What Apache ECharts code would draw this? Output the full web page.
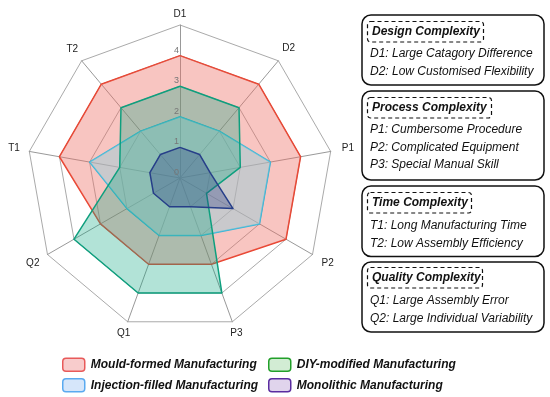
<!DOCTYPE html>
<html>
<head>
<meta charset="utf-8">
<script src="https://cdn.jsdelivr.net/npm/echarts@6/dist/echarts.min.js"></script>
<style>html,body{margin:0;padding:0;background:#fff}#chart{width:550px;height:397px}</style>
</head>
<body>
<div id="chart"></div>
<script>
// Categories in clockwise order starting at top
var categories = ['D1', 'D2', 'P1', 'P2', 'P3', 'Q1', 'Q2', 'T1', 'T2'];
var seriesNames = ['Mould-formed Manufacturing', 'Injection-filled Manufacturing', 'DIY-modified Manufacturing', 'Monolithic Manufacturing'];
var mouldValues     = [4, 4, 4, 4, 3, 3, 3, 4, 4];
var injectionValues = [2, 2, 3, 3, 2, 2, 2, 3, 2];
var diyValues       = [3, 3, 2, 1, 4, 4, 4, 2, 3];
var monoValues      = [1, 1, 1, 2, 1, 1, 1, 1, 1];
var axisMax = 5;

var boxTitles = ['Design Complexity', 'Process Complexity', 'Time Complexity', 'Quality Complexity'];
var boxItems = [
  ['D1: Large Catagory Difference', 'D2: Low Customised Flexibility'],
  ['P1: Cumbersome Procedure', 'P2: Complicated Equipment', 'P3: Special Manual Skill'],
  ['T1: Long Manufacturing Time', 'T2: Low Assembly Efficiency'],
  ['Q1: Large Assembly Error', 'Q2: Large Individual Variability']
];

var FONT = 'Liberation Sans, Arial, Helvetica, sans-serif';

// ECharts radar places indicators counterclockwise; reorder so the picture reads clockwise
var order = [0, 8, 7, 6, 5, 4, 3, 2, 1];
function reorder(arr) { return order.map(function (i) { return arr[i]; }); }

// distance of each axis name from the outer ring (clockwise order, same as categories)
var nameGaps = [11, 16, 17.5, 17.5, 12, 12, 17, 15.5, 14.5];
var gapsCCW = reorder(nameGaps);

var indicator = reorder(categories).map(function (n, k) {
  return { name: n, max: axisMax, min: 0, nameGap: gapsCCW[k] };
});
// overlay radar (same geometry) that only carries the tick labels on the first axis, drawn above the series
var labelIndicator = reorder(categories).map(function (n, k) {
  var o = { name: n, max: axisMax, min: 0 };
  if (k === 0) o.axisLabel = { show: true, showMaxLabel: false, color: '#777', fontSize: 9, fontFamily: FONT, margin: 1, align: 'right', verticalAlign: 'bottom', padding: [0, 0, 1, 0] };
  return o;
});

var lineColors = ['#e8412c', '#36b5d8', '#0f9e7e', '#27408b'];
var fillColors = ['rgba(238,110,100,0.4)', 'rgba(154,205,215,0.5)', 'rgba(17,169,131,0.32)', 'rgba(40,60,130,0.32)'];
var allValues = [mouldValues, injectionValues, diyValues, monoValues];

var series = allValues.map(function (vals, i) {
  return {
    type: 'radar',
    name: seriesNames[i],
    radarIndex: 0,
    symbol: 'none',
    silent: true,
    z: 2,
    lineStyle: { color: lineColors[i], width: 1.5 },
    areaStyle: { color: fillColors[i], opacity: 1 },
    itemStyle: { color: lineColors[i] },
    data: [{ value: reorder(vals), name: seriesNames[i] }]
  };
});

var legendStyles = [
  { color: '#f8cccc', borderColor: '#e85a5a' },
  { color: '#d6e6fa', borderColor: '#5aaaf0' },
  { color: '#d2ecd4', borderColor: '#22a02a' },
  { color: '#e0d4ec', borderColor: '#5a2ca0' }
];
function legendItem(i) {
  return { name: seriesNames[i], icon: 'roundRect', itemStyle: { color: legendStyles[i].color, borderColor: legendStyles[i].borderColor, borderWidth: 1.5 } };
}
var legendCommon = {
  orient: 'vertical', itemWidth: 22, itemHeight: 13, itemGap: 6, padding: 0,
  selectedMode: false,
  textStyle: { fontFamily: FONT, fontSize: 12, fontWeight: 'bold', fontStyle: 'italic', color: '#111', padding: [0, 0, 0, 1] }
};

// Right-hand description boxes
var boxes = [
  { top: 15, h: 70, titleY: 31.5, titleW: 116, itemY: [53.5, 71.5] },
  { top: 91, h: 89, titleY: 107.5, titleW: 124, itemY: [129.5, 147.5, 165] },
  { top: 186, h: 70.5, titleY: 202.5, titleW: 104, itemY: [225.5, 243.5] },
  { top: 262, h: 70, titleY: 277.5, titleW: 115, itemY: [301, 319] }
];
var graphics = [];
boxes.forEach(function (b, i) {
  graphics.push({ type: 'rect', shape: { x: 362, y: b.top, width: 182, height: b.h, r: 9 }, style: { fill: 'none', stroke: '#111', lineWidth: 1.5 } });
  graphics.push({ type: 'rect', shape: { x: 367.5, y: b.titleY - 10, width: b.titleW, height: 20.5, r: 3 }, style: { fill: 'none', stroke: '#111', lineWidth: 1.2, lineDash: [4, 3] } });
  graphics.push({ type: 'text', x: 372, y: b.titleY, style: { text: boxTitles[i], fill: '#111', font: 'italic bold 12px ' + FONT, textVerticalAlign: 'middle', verticalAlign: 'middle' } });
  boxItems[i].forEach(function (t, j) {
    graphics.push({ type: 'text', x: 370, y: b.itemY[j], style: { text: t, fill: '#111', font: 'italic 12px ' + FONT, textVerticalAlign: 'middle', verticalAlign: 'middle' } });
  });
});

var radarGeom = { center: [180, 178], radius: 153, startAngle: 90, shape: 'polygon', splitNumber: 5 };

var chart = echarts.init(document.getElementById('chart'), null, { renderer: 'canvas' });
chart.setOption({
  animation: false,
  backgroundColor: '#fff',
  textStyle: { fontFamily: FONT },
  radar: [
    Object.assign({
      z: 0,
      indicator: indicator,
      axisName: { color: '#222', fontSize: 10, fontFamily: FONT, align: 'center', verticalAlign: 'middle' },
      splitArea: { show: false },
      splitLine: { lineStyle: { color: '#aaa', width: 1 } },
      axisLine: { lineStyle: { color: '#999', width: 1 } },
      axisTick: { show: false },
      axisLabel: { show: false }
    }, radarGeom),
    Object.assign({
      z: 10,
      indicator: labelIndicator,
      axisName: { show: false },
      splitArea: { show: false },
      splitLine: { show: false },
      axisLine: { show: false },
      axisTick: { show: false },
      axisLabel: { show: false }
    }, radarGeom)
  ],
  legend: [
    Object.assign({ left: 62, top: 357.5, data: [legendItem(0), legendItem(1)] }, legendCommon),
    Object.assign({ left: 268, top: 357.5, data: [legendItem(2), legendItem(3)] }, legendCommon)
  ],
  graphic: graphics,
  series: series
});
</script>
</body>
</html>
